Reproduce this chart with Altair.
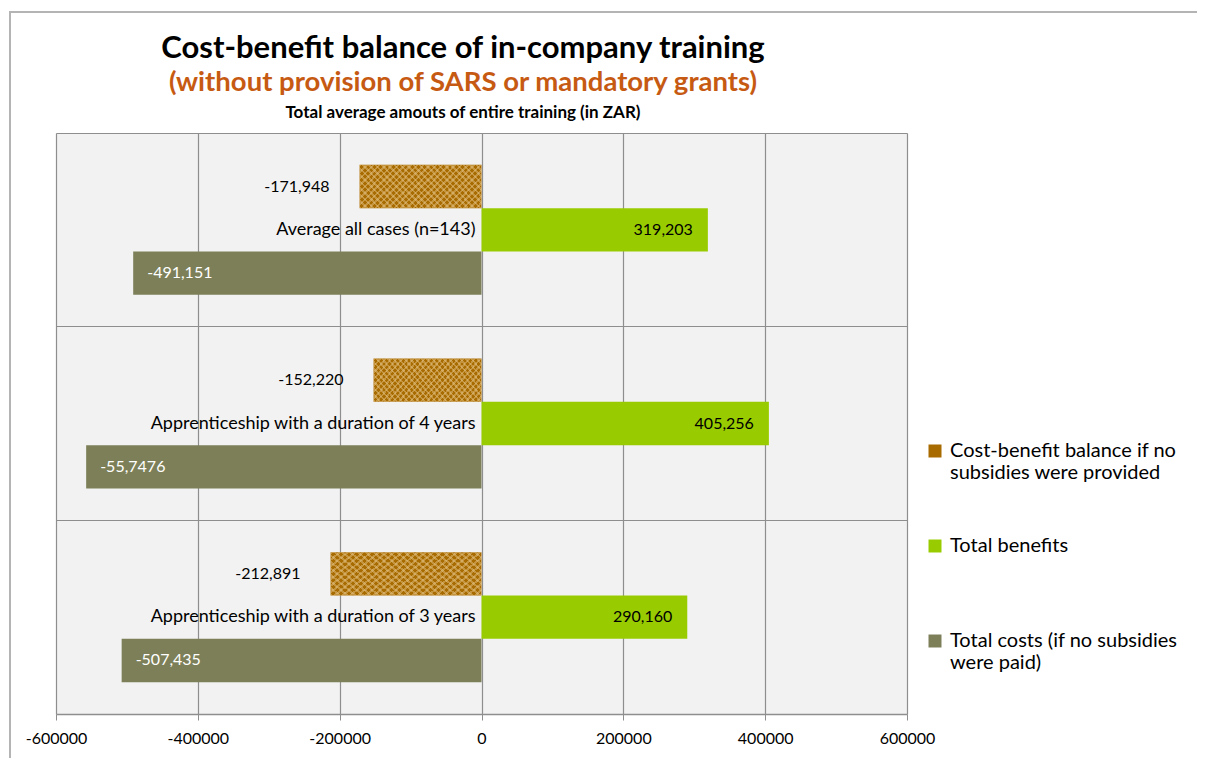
import altair as alt
import pandas as pd

categories = ["Average all cases (n=143)",
              "Apprenticeship with a duration of 4 years",
              "Apprenticeship with a duration of 3 years"]
series = ["Cost-benefit balance if no subsidies were provided",
          "Total benefits",
          "Total costs (if no subsidies were paid)"]
legend_labels = ["Cost-benefit balance if no|subsidies were provided",
                 "Total benefits|",
                 "Total costs (if no subsidies|were paid)"]
balance = [-171948, -152220, -212891]
benefits = [319203, 405256, 290160]
costs = [-491151, -557476, -507435]
balance_labels = ["-171,948", "-152,220", "-212,891"]
benefit_labels = ["319,203", "405,256", "290,160"]
cost_labels = ["-491,151", "-55,7476", "-507,435"]
x_ticks = [-600000, -400000, -200000, 0, 200000, 400000, 600000]

colors = ["#A86B00", "#99CC00", "#7D7F58"]
FONT = "Lato"

rows = []
for vals, labs, s in [(balance, balance_labels, series[0]),
                      (benefits, benefit_labels, series[1]),
                      (costs, cost_labels, series[2])]:
    for c, v, l in zip(categories, vals, labs):
        rows.append({"category": c, "series": s, "value": v, "label": l,
                     "legend": legend_labels[series.index(s)]})
df = pd.DataFrame(rows)

y_enc = alt.Y("category:N", sort=categories,
              scale=alt.Scale(paddingInner=0, paddingOuter=0),
              axis=alt.Axis(labels=False, ticks=False, domain=False, grid=True,
                            bandPosition=0, gridColor="#8E8E8E", gridWidth=1.2,
                            title=None))
yoff = alt.YOffset("series:N", sort=series,
                   scale=alt.Scale(paddingInner=0, paddingOuter=0.736))
x_enc = alt.X("value:Q", scale=alt.Scale(domain=[-600000, 600000], nice=False),
              axis=alt.Axis(values=x_ticks, labelExpr="'' + datum.value",
                            labelFont=FONT, labelFontSize=16, labelColor="#000",
                            labelFlush=False,
                            labelPadding=10, tickSize=6, tickColor="#8E8E8E",
                            domainColor="#8E8E8E", domainWidth=1.5,
                            grid=True, gridColor="#8E8E8E", gridWidth=1.2,
                            title=None))

base = alt.Chart(df)

bars = base.mark_bar().encode(
    x=x_enc, x2=alt.datum(0), y=y_enc, yOffset=yoff,
    color=alt.Color("legend:N", sort=legend_labels,
                    scale=alt.Scale(domain=legend_labels, range=colors),
                    legend=alt.Legend(orient="none", legendX=869, legendY=308,
                                      title=None, symbolType="square",
                                      symbolSize=169, symbolStrokeWidth=0,
                                      labelFont=FONT, labelFontSize=20,
                                      labelColor="#000", labelLimit=400,
                                      labelOffset=5,
                                      labelExpr="split(datum.label, '|')",
                                      rowPadding=53)),
)

# diagonal cross-hatch texture overlay for balance bars
light = "rgba(235,205,150,0.42)"
clear = "rgba(235,205,150,0)"
def stripes(n, duty=0.4):
    stops = []
    for i in range(n):
        a = i / n
        b = (i + duty) / n
        stops += [{"offset": a, "color": light}, {"offset": b, "color": light},
                  {"offset": b, "color": clear}, {"offset": (i + 1) / n, "color": clear}]
    return stops

bal_only = base.transform_filter(alt.datum.series == series[0])
pos = dict(x="value:Q", x2=alt.datum(0),
           y=alt.Y("category:N", sort=categories),
           yOffset=alt.YOffset("series:N", sort=series))
hatch_a = bal_only.mark_bar(
    fill={"gradient": "linear", "x1": 0, "y1": 0, "x2": 1.2, "y2": 0.414,
          "stops": stripes(26)}).encode(**pos)
hatch_b = bal_only.mark_bar(
    fill={"gradient": "linear", "x1": 0, "y1": 1, "x2": 1.2, "y2": 0.586,
          "stops": stripes(26)}).encode(**pos)

lab_bal = bal_only.mark_text(
    align="right", baseline="middle", dx=-30, font=FONT, fontSize=16, color="#000"
).encode(x="value:Q", y=alt.Y("category:N", sort=categories),
         yOffset=alt.YOffset("series:N", sort=series), text="label:N")
lab_ben = base.transform_filter(alt.datum.series == series[1]).mark_text(
    align="right", baseline="middle", dx=-15, font=FONT, fontSize=16, color="#000"
).encode(x="value:Q", y=alt.Y("category:N", sort=categories),
         yOffset=alt.YOffset("series:N", sort=series), text="label:N")
lab_cost = base.transform_filter(alt.datum.series == series[2]).mark_text(
    align="left", baseline="middle", dx=14, font=FONT, fontSize=16, color="#FFFFFF"
).encode(x="value:Q", y=alt.Y("category:N", sort=categories),
         yOffset=alt.YOffset("series:N", sort=series), text="label:N")

cat_df = pd.DataFrame({"category": categories, "zero": [0, 0, 0]})
cat_labels = alt.Chart(cat_df).mark_text(
    align="right", baseline="middle", dx=-6, font=FONT, fontSize=18, color="#000"
).encode(x="zero:Q", y=alt.Y("category:N", sort=categories), text="category:N")

title_lines = ["Cost-benefit balance of in-company training",
               "(without provision of SARS or mandatory grants)",
               "Total average amouts of entire training (in ZAR)"]
t1 = alt.Chart(pd.DataFrame({"t": [title_lines[0]]})).mark_text(
    font=FONT, fontSize=31, fontWeight="bold", color="#000", align="center",
    baseline="middle").encode(text="t:N", x=alt.value(407), y=alt.value(-84))
t2 = alt.Chart(pd.DataFrame({"t": [title_lines[1]]})).mark_text(
    font=FONT, fontSize=27.5, fontWeight="bold", color="#C65A12", align="center",
    baseline="middle").encode(text="t:N", x=alt.value(407), y=alt.value(-50))
t3 = alt.Chart(pd.DataFrame({"t": [title_lines[2]]})).mark_text(
    font=FONT, fontSize=17, fontWeight="bold", color="#000", align="center",
    baseline="middle").encode(text="t:N", x=alt.value(407), y=alt.value(-20))

frame_df = pd.DataFrame({"f": [0]})
frame_top = alt.Chart(frame_df).mark_rule(color="#B4B4B4", strokeWidth=2).encode(
    x=alt.value(-46), x2=alt.value(1160), y=alt.value(-121))
frame_left = alt.Chart(frame_df).mark_rule(color="#B4B4B4", strokeWidth=2).encode(
    x=alt.value(-46), y=alt.value(-122), y2=alt.value(640))

chart = alt.layer(bars, hatch_a, hatch_b, lab_bal, lab_ben, lab_cost, cat_labels,
                  t1, t2, t3, frame_top, frame_left).properties(
    width=851, height=581,
    autosize=alt.AutoSizeParams(type="none"),
    padding={"left": 48, "top": 125, "right": 290, "bottom": 44},
    background="#FFFFFF",
).configure_view(fill="#F2F2F2", stroke=None)

chart.save("out.html", embed_options={"renderer": "svg", "actions": False})
